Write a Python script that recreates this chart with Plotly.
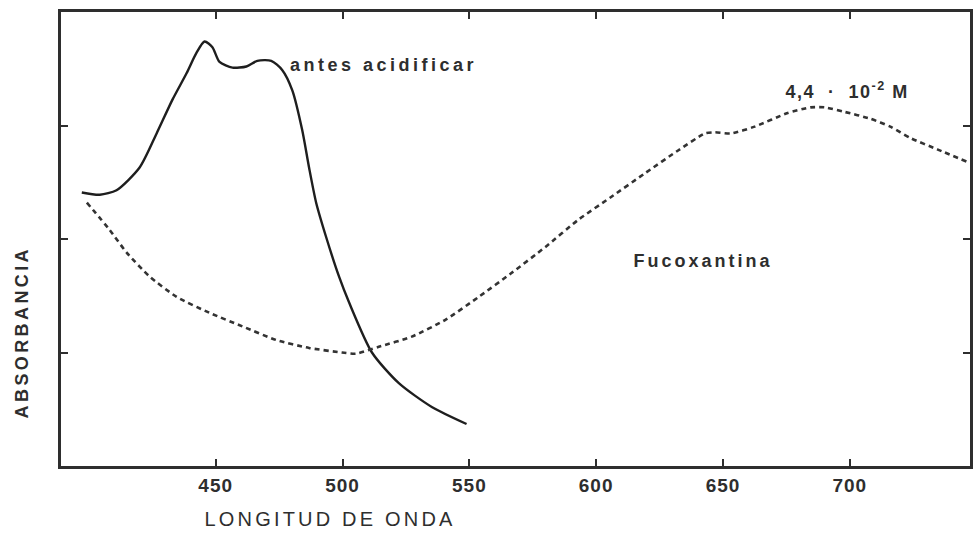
import plotly.graph_objects as go

# Data (wavelength in nm, absorbance in arbitrary units)
antes_nm = [397.2, 404.3, 410.9, 420.0, 426.7, 433.0, 438.5, 442.4, 445.6, 448.7,
            451.5, 456.6, 462.1, 466.4, 471.9, 476.2, 480.2, 484.1, 486.8, 489.6,
            493.5, 498.6, 502.6, 511.6, 522.2, 535.2, 548.9]
antes_abs = [2.41, 2.39, 2.43, 2.63, 2.93, 3.23, 3.46, 3.64, 3.74, 3.69,
             3.56, 3.51, 3.52, 3.57, 3.57, 3.49, 3.31, 2.96, 2.63, 2.32,
             2.02, 1.67, 1.44, 1.00, 0.73, 0.52, 0.37]

fuco_nm = [399.2, 408.2, 414.9, 423.9, 434.6, 447.5, 460.5, 473.9, 486.8, 499.8,
           505.3, 514.3, 527.3, 540.7, 553.7, 566.6, 580.0, 593.0, 605.9, 619.3,
           632.3, 642.9, 646.8, 653.1, 662.5, 675.5, 684.6, 690.1, 697.9, 708.1,
           716.0, 723.9, 734.5, 746.3]
fuco_abs = [2.32, 2.08, 1.88, 1.67, 1.49, 1.35, 1.23, 1.11, 1.04, 1.00,
            0.99, 1.05, 1.14, 1.29, 1.49, 1.70, 1.93, 2.17, 2.37, 2.58,
            2.78, 2.93, 2.94, 2.93, 2.99, 3.11, 3.16, 3.16, 3.12, 3.06,
            2.99, 2.89, 2.79, 2.68]

x_ticks = [450, 500, 550, 600, 650, 700]
x_ticktext = ["450", "500", "550", "600", "650", "700"]
y_ticks = [1, 2, 3]

INK = "#2e2e2e"
FONT = "Liberation Sans, Arial, sans-serif"

fig = go.Figure()
fig.add_trace(go.Scatter(x=antes_nm, y=antes_abs, mode="lines",
                         line=dict(color="#1e1e1e", width=2.4, shape="spline", smoothing=0.7),
                         showlegend=False, hoverinfo="skip"))
fig.add_trace(go.Scatter(x=fuco_nm, y=fuco_abs, mode="lines",
                         line=dict(color="#333333", width=2.6, dash="5px,4px",
                                   shape="spline", smoothing=0.6),
                         showlegend=False, hoverinfo="skip"))

axis_common = dict(showline=True, linewidth=3, linecolor=INK, mirror="ticks",
                   ticks="inside", ticklen=7, tickwidth=2, tickcolor=INK,
                   showgrid=False, zeroline=False)

fig.update_xaxes(range=[389.0, 747.4], tickvals=x_ticks, ticktext=x_ticktext,
                 tickfont=dict(family=FONT, size=19, color=INK, weight="bold"),
                 ticklabelstandoff=0, **axis_common)
fig.update_yaxes(range=[0, 4], tickvals=y_ticks, showticklabels=False, **axis_common)

annots = [
    dict(x=516.1, y=3.533, xref="x", yref="y", text="antes acidificar",
         font=dict(family=FONT, size=18, color=INK, weight="bold")),
    dict(x=698.8, y=3.31, xref="x", yref="y",
         text="4,4\u00a0\u00a0·\u00a0\u00a010<sup>-2</sup>\u00a0M",
         font=dict(family=FONT, size=18, color=INK, weight="bold")),
    dict(x=642.5, y=1.806, xref="x", yref="y", text="Fucoxantina",
         font=dict(family=FONT, size=18, color=INK, weight="bold")),
    dict(x=0.297, y=-0.1167, xref="paper", yref="paper", text="LONGITUD DE ONDA",
         font=dict(family=FONT, size=20, color=INK)),
    dict(x=-0.0433, y=0.295, xref="paper", yref="paper", text="ABSORBANCIA",
         textangle=-90, font=dict(family=FONT, size=18, color=INK, weight="bold")),
]
for a in annots:
    fig.add_annotation(showarrow=False, xanchor="center", yanchor="middle", **a)

fig.update_layout(width=974, height=533, margin=dict(l=61, r=1, t=12, b=67),
                  paper_bgcolor="white", plot_bgcolor="white",
                  font=dict(family=FONT, color=INK))

post_script = """
var gd = document.getElementById('{plot_id}');
var sp = {'antes acidificar': '3.5px', 'Fucoxantina': '3px', 'ABSORBANCIA': '3.4px', 'LONGITUD DE ONDA': '3.2px'};
gd.querySelectorAll('.annotation-text').forEach(function(t){
  var k = t.textContent;
  if (sp[k]) { t.style.letterSpacing = sp[k]; }
  else if (k.indexOf('4,4') === 0) { t.style.letterSpacing = '1.5px'; }
});
gd.querySelectorAll('.xtick text').forEach(function(t){ t.style.letterSpacing = '1px'; });
"""

fig.write_html("out.html", post_script=post_script)
